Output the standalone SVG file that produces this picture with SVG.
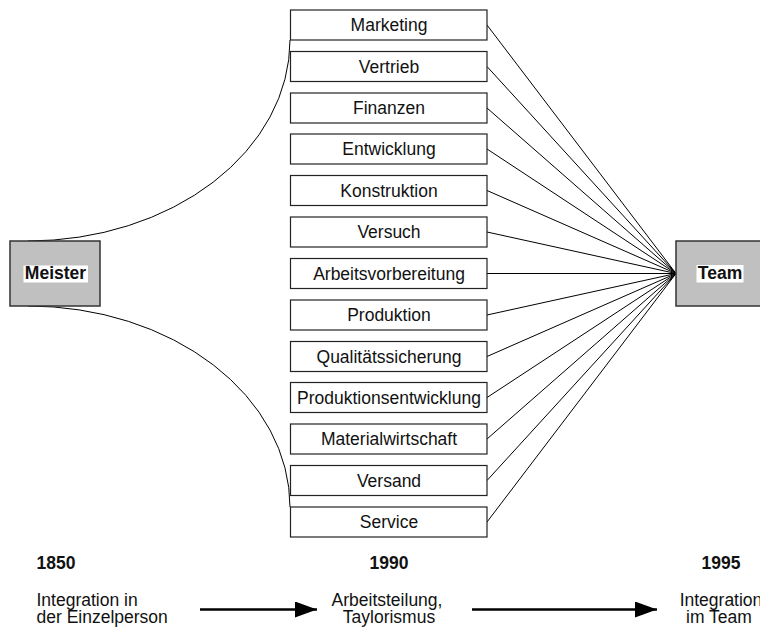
<svg xmlns="http://www.w3.org/2000/svg" width="760" height="628" viewBox="0 0 760 628">
<style>
.box{fill:#fff;stroke:#222;stroke-width:1.2}
.big{fill:#c0c0c0;stroke:#333;stroke-width:1.5}
.lbl{font-family:"Liberation Sans",Arial,sans-serif;font-size:17.5px;fill:#111;text-anchor:middle}
.bold{font-weight:bold}
.conn{stroke:#000;stroke-width:1;fill:none}
.arr{stroke:#000;stroke-width:2.5;fill:none}
</style>
<defs>
<marker id="ah" markerUnits="userSpaceOnUse" markerWidth="22" markerHeight="16" refX="22" refY="8" orient="auto">
<path d="M0,0 L22,8 L0,16 Z" fill="#000"/>
</marker>
</defs>
<rect width="760" height="628" fill="#fff"/>
<g id="connectors">
<path class="conn" d="M28,241 A262,201 0 0 0 290,40"/>
<path class="conn" d="M28,306 A262,201 0 0 1 290,507"/>
<line class="conn" x1="487" y1="25" x2="676" y2="273.5"/>
<line class="conn" x1="487" y1="66.5" x2="676" y2="273.5"/>
<line class="conn" x1="487" y1="108" x2="676" y2="273.5"/>
<line class="conn" x1="487" y1="149" x2="676" y2="273.5"/>
<line class="conn" x1="487" y1="190.5" x2="676" y2="273.5"/>
<line class="conn" x1="487" y1="232" x2="676" y2="273.5"/>
<line class="conn" x1="487" y1="273.5" x2="676" y2="273.5"/>
<line class="conn" x1="487" y1="315" x2="676" y2="273.5"/>
<line class="conn" x1="487" y1="356.5" x2="676" y2="273.5"/>
<line class="conn" x1="487" y1="397.5" x2="676" y2="273.5"/>
<line class="conn" x1="487" y1="439" x2="676" y2="273.5"/>
<line class="conn" x1="487" y1="480.5" x2="676" y2="273.5"/>
<line class="conn" x1="487" y1="522" x2="676" y2="273.5"/>
<line class="arr" x1="200" y1="609.5" x2="317" y2="609.5" marker-end="url(#ah)"/>
<line class="arr" x1="472" y1="609.5" x2="657" y2="609.5" marker-end="url(#ah)"/>
</g>
<g id="meister">
<rect class="big" x="10" y="241" width="90" height="65"/>
<rect x="23.5" y="265.5" width="64.5" height="17" fill="#fff"/>
<text class="lbl bold" x="55.5" y="278.5">Meister</text>
</g>
<g id="team">
<rect class="big" x="676" y="241" width="90" height="65"/>
<rect x="696.5" y="265" width="47" height="17.5" fill="#fff"/>
<text class="lbl bold" x="720" y="278.5">Team</text>
</g>
<g id="marketing"><rect class="box" x="290.5" y="10" width="196.5" height="30"/><text class="lbl" x="389" y="31">Marketing</text></g>
<g id="vertrieb"><rect class="box" x="290.5" y="51.5" width="196.5" height="30"/><text class="lbl" x="389" y="72.5">Vertrieb</text></g>
<g id="finanzen"><rect class="box" x="290.5" y="93" width="196.5" height="30"/><text class="lbl" x="389" y="114">Finanzen</text></g>
<g id="entwicklung"><rect class="box" x="290.5" y="134" width="196.5" height="30"/><text class="lbl" x="389" y="155">Entwicklung</text></g>
<g id="konstruktion"><rect class="box" x="290.5" y="175.5" width="196.5" height="30"/><text class="lbl" x="389" y="196.5">Konstruktion</text></g>
<g id="versuch"><rect class="box" x="290.5" y="217" width="196.5" height="30"/><text class="lbl" x="389" y="238">Versuch</text></g>
<g id="arbeitsvorbereitung"><rect class="box" x="290.5" y="258.5" width="196.5" height="30"/><text class="lbl" x="389" y="279.5">Arbeitsvorbereitung</text></g>
<g id="produktion"><rect class="box" x="290.5" y="300" width="196.5" height="30"/><text class="lbl" x="389" y="321">Produktion</text></g>
<g id="qualitaetssicherung"><rect class="box" x="290.5" y="341.5" width="196.5" height="30"/><text class="lbl" x="389" y="362.5">Qualitätssicherung</text></g>
<g id="produktionsentwicklung"><rect class="box" x="290.5" y="382.5" width="196.5" height="30"/><text class="lbl" x="389" y="403.5">Produktionsentwicklung</text></g>
<g id="materialwirtschaft"><rect class="box" x="290.5" y="424" width="196.5" height="30"/><text class="lbl" x="389" y="445">Materialwirtschaft</text></g>
<g id="versand"><rect class="box" x="290.5" y="465.5" width="196.5" height="30"/><text class="lbl" x="389" y="486.5">Versand</text></g>
<g id="service"><rect class="box" x="290.5" y="507" width="196.5" height="30"/><text class="lbl" x="389" y="528">Service</text></g>
<g id="timeline">
<text class="lbl bold" x="36.5" y="568.5" style="text-anchor:start">1850</text>
<text class="lbl" x="36.5" y="606" style="text-anchor:start">Integration in</text>
<text class="lbl" x="36.5" y="623" style="text-anchor:start">der Einzelperson</text>
<text class="lbl bold" x="389" y="568.5">1990</text>
<text class="lbl" x="387" y="606">Arbeitsteilung,</text>
<text class="lbl" x="389" y="623">Taylorismus</text>
<text class="lbl bold" x="721" y="568.5">1995</text>
<text class="lbl" x="721" y="606">Integration</text>
<text class="lbl" x="719" y="623">im Team</text>
</g>
</svg>
